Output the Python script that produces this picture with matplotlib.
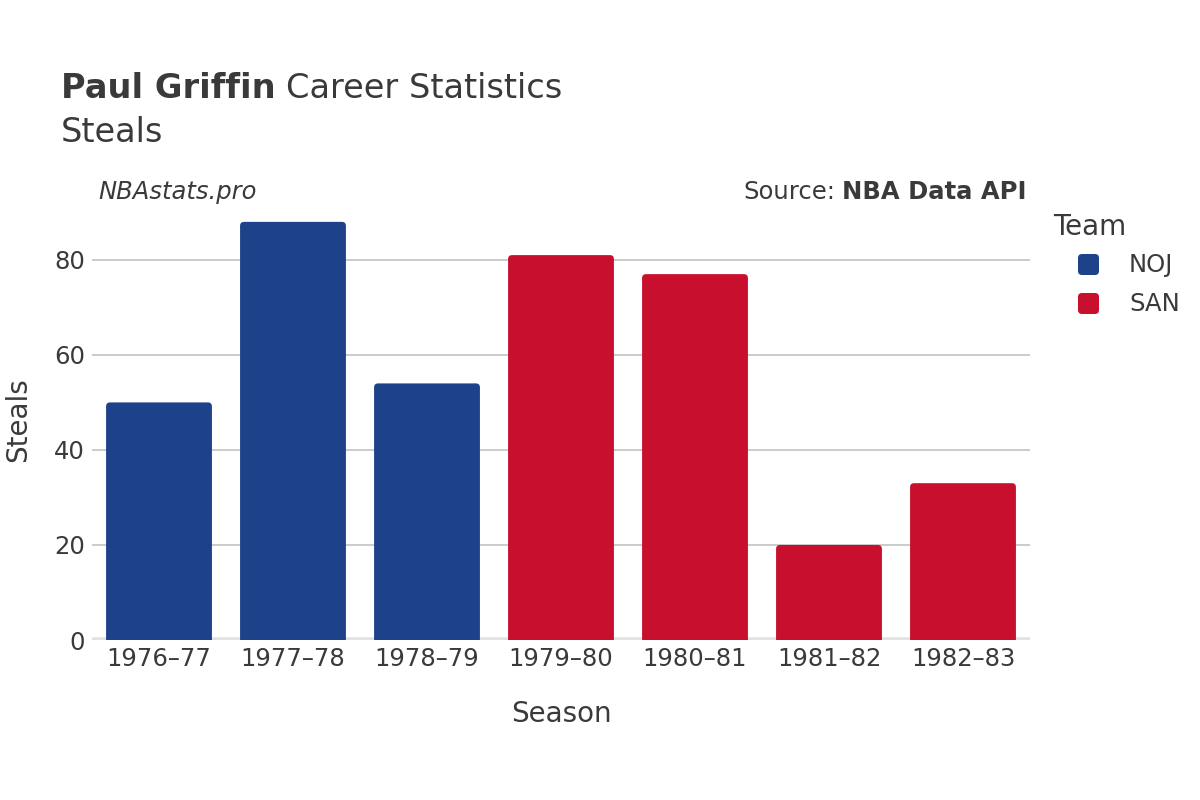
import matplotlib
matplotlib.use("Agg")
import matplotlib.pyplot as plt
from matplotlib.path import Path
from matplotlib.patches import PathPatch, FancyBboxPatch
from matplotlib.transforms import IdentityTransform

# data
seasons = ["1976–77", "1977–78", "1978–79", "1979–80", "1980–81", "1981–82", "1982–83"]
steals = [50, 88, 54, 81, 77, 20, 33]
teams = ["NOJ", "NOJ", "NOJ", "SAN", "SAN", "SAN", "SAN"]
team_colors = {"NOJ": "#1d428a", "SAN": "#c8102e"}

text_col = "#3a3a3a"
plt.rcParams["font.family"] = ["DejaVu Sans"]

W, H = 1200, 800
fig = plt.figure(figsize=(W / 100, H / 100), dpi=100)

def fx(px):
    return px / W

def fy(py):
    return 1 - py / H

ax = fig.add_axes([fx(92), fy(640), fx(1030) - fx(92), fy(200) - fy(640)])
ax.set_xlim(-0.5, len(seasons) - 0.5)
ax.set_ylim(0, 92.6)

# rounded-top bars
bar_w = 0.79
px_x = ax.transData.transform((1, 0))[0] - ax.transData.transform((0, 0))[0]
px_y = ax.transData.transform((0, 1))[1] - ax.transData.transform((0, 0))[1]
r = 4
rx, ry = r / px_x, r / px_y
for i, (v, t) in enumerate(zip(steals, teams)):
    x0, x1 = i - bar_w / 2, i + bar_w / 2
    verts = [(x0, 0), (x0, v - ry), (x0, v), (x0 + rx, v), (x1 - rx, v),
             (x1, v), (x1, v - ry), (x1, 0), (x0, 0)]
    codes = [Path.MOVETO, Path.LINETO, Path.CURVE3, Path.CURVE3, Path.LINETO,
             Path.CURVE3, Path.CURVE3, Path.LINETO, Path.CLOSEPOLY]
    ax.add_patch(PathPatch(Path(verts, codes), facecolor=team_colors[t],
                           edgecolor="none", zorder=3))

ax.set_yticks([0, 20, 40, 60, 80])
ax.set_xticks(range(len(seasons)))
ax.set_xticklabels(seasons)
ax.grid(axis="y", color="#bdbdbd", linewidth=1.1, zorder=0)
ax.axhline(0, color="#e2e2e2", linewidth=4, zorder=2)
for s in ax.spines.values():
    s.set_visible(False)
ax.tick_params(axis="both", length=0, labelsize=17.5, colors=text_col, pad=5)
ax.set_xlabel("Season", fontsize=20, color=text_col, labelpad=21)
ax.set_ylabel("Steals", fontsize=20, color=text_col, labelpad=16)

# titles
t1 = fig.text(fx(61), fy(89), "Paul Griffin", fontsize=24.2, fontweight="bold",
              color=text_col, va="center", ha="left")
fig.canvas.draw()
bb = t1.get_window_extent()
fig.text(bb.x1 / W + 0.009, fy(89), "Career Statistics", fontsize=24.2,
         color=text_col, va="center", ha="left")
fig.text(fx(61), fy(132), "Steals", fontsize=24.2, color=text_col,
         va="center", ha="left")
fig.text(fx(98), fy(192), "NBAstats.pro", fontsize=17.5, style="italic",
         color=text_col, va="center", ha="left")
s2 = fig.text(fx(1026), fy(192), "NBA Data API", fontsize=17.5, fontweight="bold",
              color=text_col, va="center", ha="right")
fig.canvas.draw()
bb2 = s2.get_window_extent()
fig.text(bb2.x0 / W - 0.005, fy(192), "Source:", fontsize=17.5,
         color=text_col, va="center", ha="right")

# legend
fig.text(fx(1053), fy(227), "Team", fontsize=20, color=text_col,
         va="center", ha="left")
for k, (name, yc) in enumerate(zip(["NOJ", "SAN"], [265, 304])):
    fig.patches.append(FancyBboxPatch((1078, H - yc - 10), 21, 21,
                                      boxstyle="round,pad=0,rounding_size=4",
                                      facecolor=team_colors[name], edgecolor="none",
                                      transform=IdentityTransform(), figure=fig))
    fig.text(fx(1129), fy(yc), name, fontsize=17.5, color=text_col,
             va="center", ha="left")

fig.savefig("out.png", dpi=100)
